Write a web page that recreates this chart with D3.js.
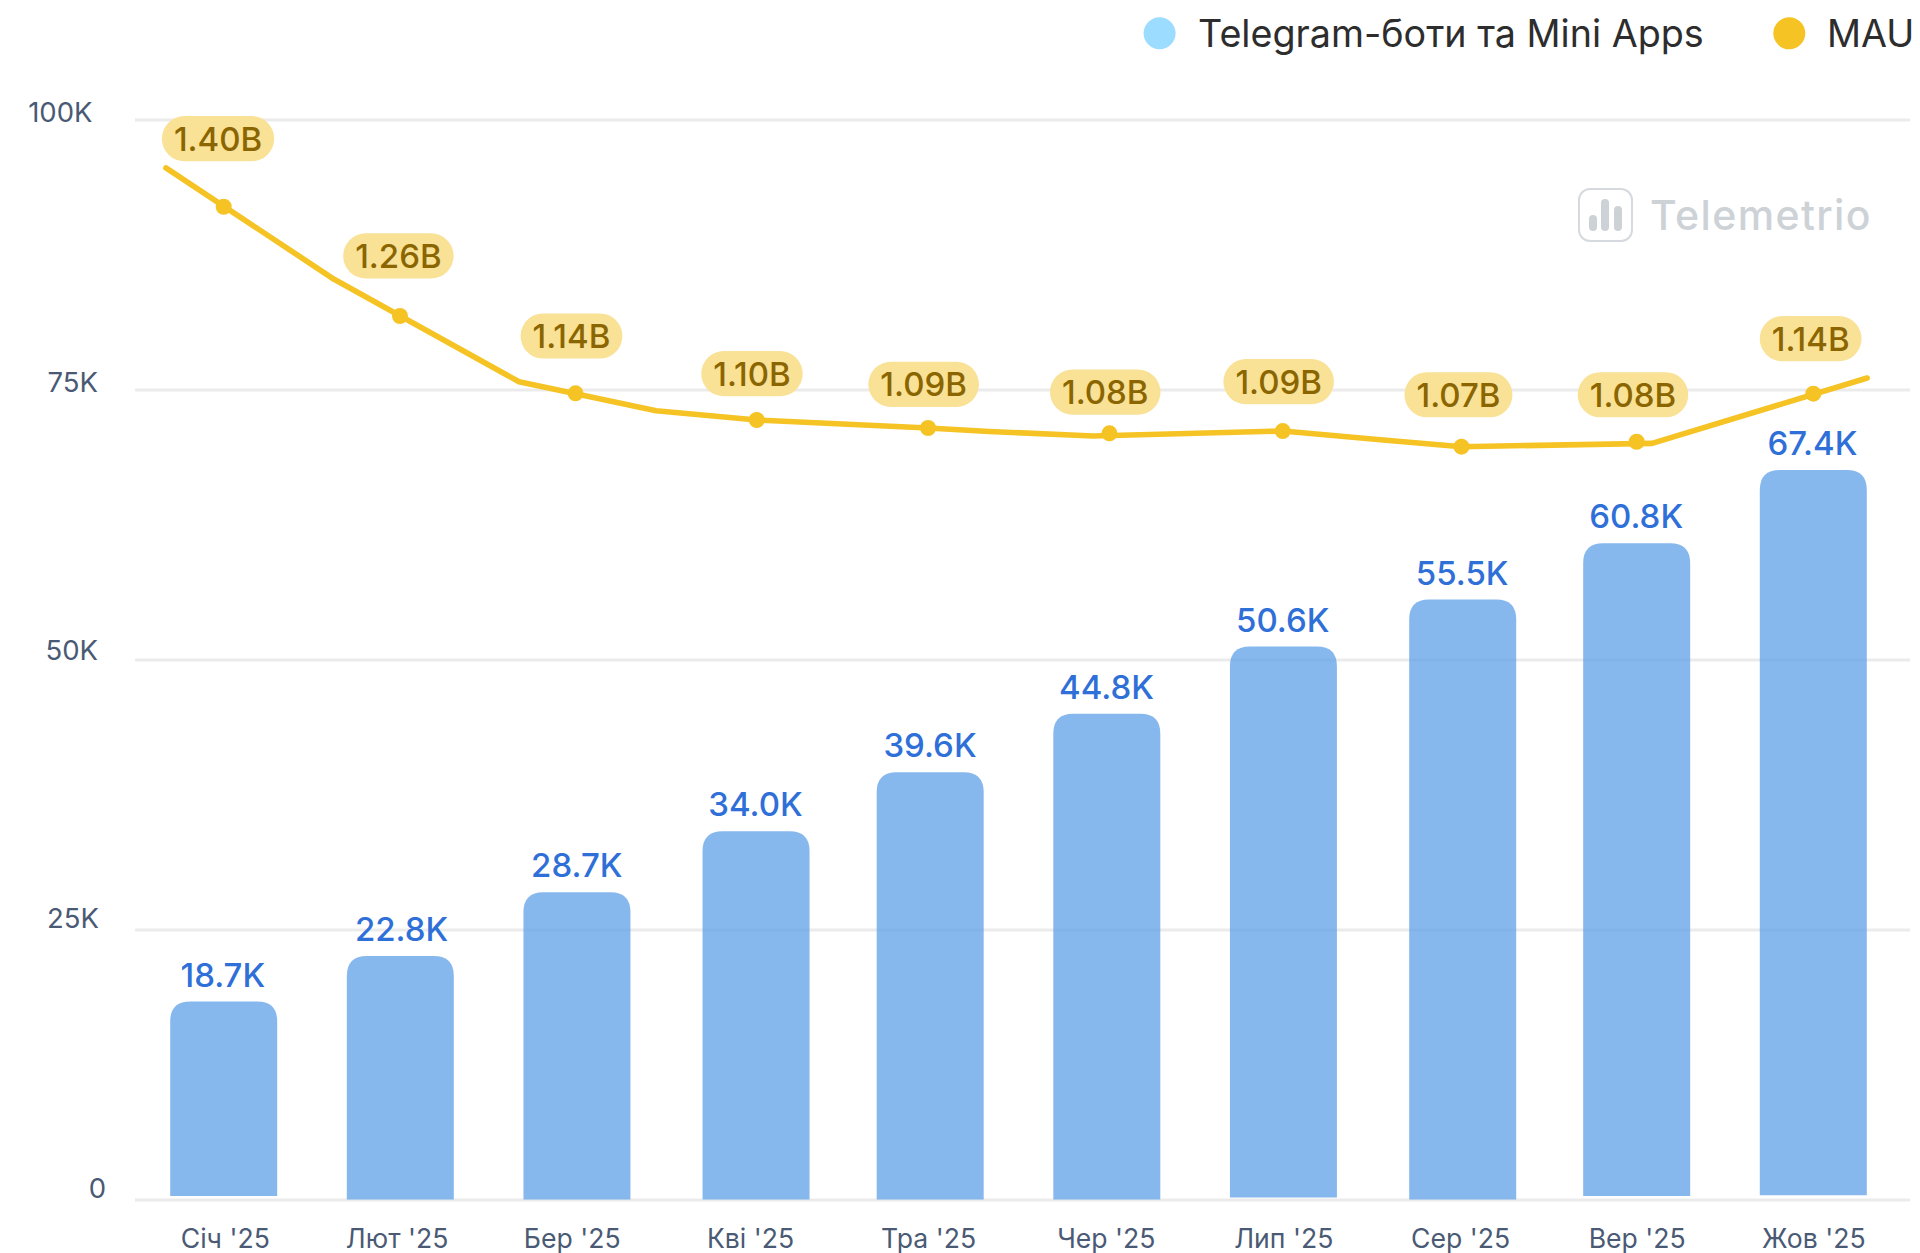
<!DOCTYPE html>
<html>
<head>
<meta charset="utf-8">
<script src="https://cdn.jsdelivr.net/npm/d3@7"></script>
<style>
html,body{margin:0;padding:0;background:#fff;overflow:hidden}
svg{display:block;font-family:Inter,sans-serif}
.domain{display:none}
.tick line{display:none}
</style>
</head>
<body>
<div id="chart"></div>
<script>
// Categories and tick labels
const months = ["Січ '25","Лют '25","Бер '25","Кві '25","Тра '25","Чер '25","Лип '25","Сер '25","Вер '25","Жов '25"];
const monthTickPos = [0.006,0.979,1.97,2.98,3.988,4.994,5.999,7,8,9];
const yTicks = [0,25,50,75,100];
const yTickLabels = ["0","25K","50K","75K","100K"];

// Bars (thousands)
const botLabels = ["18.7K","22.8K","28.7K","34.0K","39.6K","44.8K","50.6K","55.5K","60.8K","67.4K"];
const botValues = [18.37,22.6,28.5,34.15,39.6,45.03,51.25,55.6,60.8,67.6];
const botBase = [0.37,0.05,0.05,0.05,0.05,0.05,0.22,0.05,0.37,0.43];
const botPos = [0,1,2,3.014,4,5,6,7.015,8,9];
const botLabelPos = [-0.005,1.007,1.999,3.011,3.999,4.998,5.996,7.012,7.997,8.995];

// MAU markers, read in left-axis units
const mauLabels = ["1.40B","1.26B","1.14B","1.10B","1.09B","1.08B","1.09B","1.07B","1.08B","1.14B"];
const mauValues = [91.97,81.85,74.69,72.22,71.48,70.99,71.2,69.75,70.21,74.66];
const mauPos = [0,0.998,1.992,3.018,3.988,5.015,5.996,7.008,8,9];
const mauLabelPos = [-0.032,0.989,1.969,2.991,3.963,4.991,5.973,6.991,7.979,8.985];
const mauLabelLevel = [98.27,87.41,80.0,76.51,75.53,74.81,75.77,74.56,74.56,79.75];

// MAU line vertices
const lineX = [-0.327,0.625,1.672,2.448,3.018,3.988,4.334,4.923,5.996,6.565,7.008,8.087,9.305];
const lineY = [95.56,85.25,75.77,73.08,72.22,71.48,71.16,70.74,71.2,70.37,69.75,70.06,76.11];

const legendItems = ["Telegram-боти та Mini Apps","MAU"];
const legendColors = ["#9bdcff","#f5c324"];
const legendDotX = [1159.6,1789.3];
const legendTextX = [1198,1827];

const W = 1920, H = 1253;
const x = d3.scaleLinear().domain([0,9]).range([223.7,1813.3]);
const y = d3.scaleLinear().domain([0,100]).range([1200,120]);
const svg = d3.select("#chart").append("svg").attr("width",W).attr("height",H).attr("viewBox",`0 0 ${W} ${H}`);

// Grid
svg.append("g").selectAll("line").data(yTicks).join("line")
  .attr("x1",135).attr("x2",1910).attr("y1",d=>y(d)).attr("y2",d=>y(d))
  .attr("stroke","#ebebeb").attr("stroke-width",3);

// Axes
const yLabelDx = {0:8,25:1,50:0,75:0,100:-5.5};
const yLabelDy = {0:-13,25:-13,50:-11,75:-9,100:-9};
const yAxis = svg.append("g").attr("transform","translate(98,0)")
  .call(d3.axisLeft(y).tickValues(yTicks).tickSize(0).tickPadding(0).tickFormat((d,i)=>yTickLabels[i]));
yAxis.selectAll("text").attr("font-family","Inter,sans-serif").attr("font-size",27.5).attr("fill","#4a5a75")
  .attr("dy",null).attr("dominant-baseline","central").attr("text-anchor","end")
  .attr("x",d=>yLabelDx[d]).attr("y",d=>yLabelDy[d]);

const xAxis = svg.append("g").attr("transform","translate(0,1238)")
  .call(d3.axisBottom(x).tickValues(monthTickPos).tickSize(0).tickPadding(0).tickFormat((d,i)=>months[i]));
xAxis.selectAll("text").attr("font-family","Inter,sans-serif").attr("font-size",26.6).attr("fill","#4a5a75")
  .attr("dy",null).attr("y",0).attr("dominant-baseline","central");

// Bars
const bw = 107, r = 20;
svg.append("g").selectAll("path").data(botValues).join("path")
  .attr("d",(d,i)=>{
    const l = x(botPos[i])-bw/2, t = y(d), b = y(botBase[i]);
    return `M${l},${b}V${t+r}Q${l},${t} ${l+r},${t}H${l+bw-r}Q${l+bw},${t} ${l+bw},${t+r}V${b}Z`;
  })
  .attr("fill","#5ea0e8").attr("fill-opacity",0.75);

svg.append("g").selectAll("text").data(botLabels).join("text")
  .attr("x",(d,i)=>x(botLabelPos[i])).attr("y",(d,i)=>y(botValues[i])-27)
  .attr("text-anchor","middle").attr("dominant-baseline","central")
  .attr("font-size",33).attr("font-weight",500).attr("fill","#2f6fd8").text(d=>d);

// MAU line and dots
svg.append("path").datum(lineX.map((d,i)=>[d,lineY[i]]))
  .attr("d",d3.line().x(d=>x(d[0])).y(d=>y(d[1])))
  .attr("fill","none").attr("stroke","#f5c324").attr("stroke-width",5.6)
  .attr("stroke-linecap","round").attr("stroke-linejoin","round");

svg.append("g").selectAll("circle").data(mauValues).join("circle")
  .attr("cx",(d,i)=>x(mauPos[i])).attr("cy",d=>y(d)).attr("r",8).attr("fill","#f5c324");

// MAU pills
const pills = svg.append("g").selectAll("g").data(mauLabels).join("g")
  .attr("transform",(d,i)=>`translate(${x(mauLabelPos[i])},${y(mauLabelLevel[i])})`);
const pillRect = pills.append("rect").attr("fill","#f9e196");
const pillText = pills.append("text").attr("text-anchor","middle").attr("dominant-baseline","central")
  .attr("font-size",33).attr("font-weight",500).attr("fill","#8a6500").text(d=>d);
pillRect.each(function(d,i){
  const tw = pillText.nodes()[i].getComputedTextLength()+24;
  d3.select(this).attr("x",-tw/2).attr("y",-22.6).attr("width",tw).attr("height",45.2).attr("rx",22.6).attr("ry",22.6);
});

// Legend
const legend = svg.append("g");
legend.selectAll("circle").data(legendItems).join("circle")
  .attr("cx",(d,i)=>legendDotX[i]).attr("cy",33.3).attr("r",16).attr("fill",(d,i)=>legendColors[i]);
legend.selectAll("text").data(legendItems).join("text")
  .attr("x",(d,i)=>legendTextX[i]).attr("y",33).attr("dominant-baseline","central")
  .attr("font-size",37.7).attr("fill","#2d2d2d").text(d=>d);

// Watermark
const wm = svg.append("g");
wm.append("rect").attr("x",1579).attr("y",189).attr("width",53).attr("height",52).attr("rx",11)
  .attr("fill","none").attr("stroke","#d6dade").attr("stroke-width",2);
const logoBars = [[1593,16],[1605,32],[1618,25]];
wm.selectAll(".lb").data(logoBars).join("rect").attr("class","lb")
  .attr("x",d=>d[0]-4).attr("y",d=>231-d[1]).attr("width",8).attr("height",d=>d[1]).attr("rx",4).attr("fill","#cdd2d7");
wm.append("text").attr("x",1650).attr("y",230).attr("font-size",41).attr("font-weight",500)
  .attr("letter-spacing",1.4).attr("fill","#cdd2d7").text("Telemetrio");
</script>
</body>
</html>
